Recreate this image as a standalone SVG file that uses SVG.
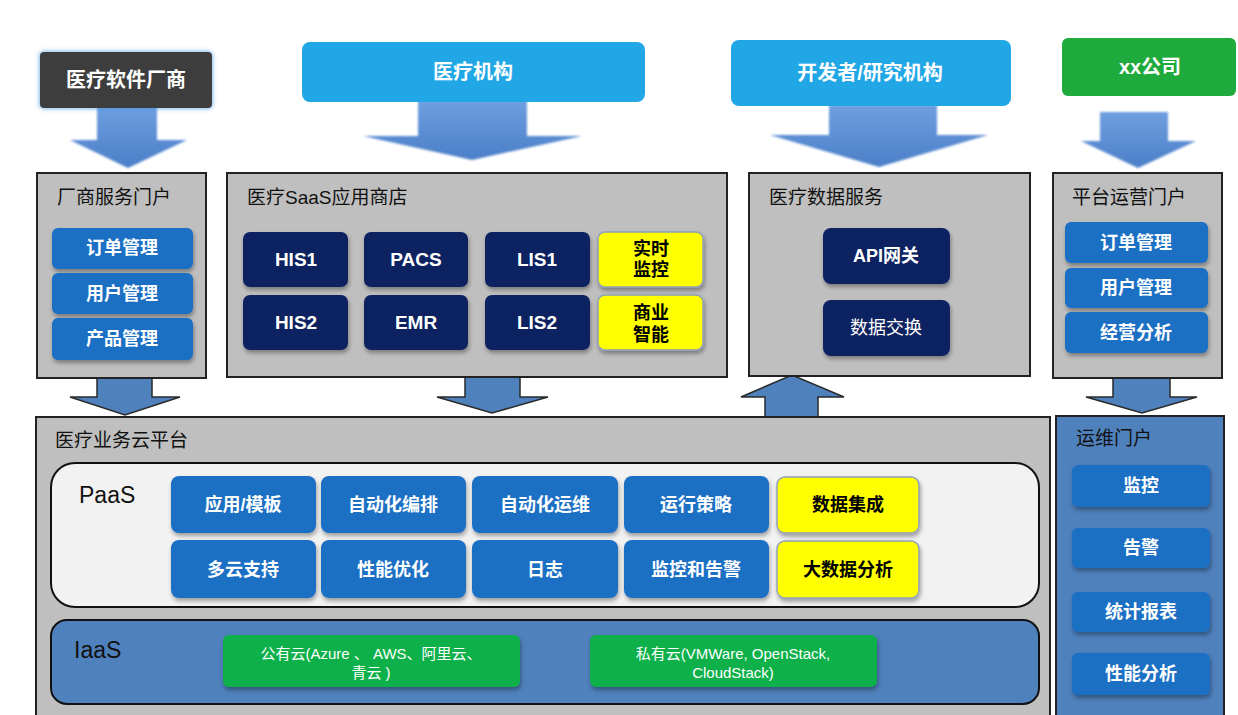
<svg xmlns="http://www.w3.org/2000/svg" width="1238" height="715" viewBox="0 0 1238 715">
<defs>
<filter id="sh" x="-10%" y="-10%" width="120%" height="130%">
<feDropShadow dx="1" dy="3" stdDeviation="2" flood-color="#000" flood-opacity="0.35"/>
</filter>
<filter id="glow" x="-10%" y="-20%" width="120%" height="140%">
<feGaussianBlur stdDeviation="1.2"/>
</filter>
<filter id="bglow" x="-10%" y="-20%" width="120%" height="140%">
<feDropShadow dx="0" dy="0" stdDeviation="2.5" flood-color="#3d8fe0" flood-opacity="0.9"/>
</filter>
<linearGradient id="ag" x1="0" y1="0" x2="0" y2="1">
<stop offset="0" stop-color="#6f9fe0"/>
<stop offset="1" stop-color="#4b7fc8"/>
</linearGradient>
</defs>
<style>
text{font-family:"Liberation Sans","Noto Sans CJK SC",sans-serif;}
.panel{fill:#bfbfbf;stroke:#222;stroke-width:2;}
.ttl{font-size:19px;fill:#111;}
.wt{fill:#fff;font-weight:bold;text-anchor:middle;dominant-baseline:central;}
.wn{fill:#fff;text-anchor:middle;dominant-baseline:central;}
.bk{fill:#000;font-weight:bold;text-anchor:middle;dominant-baseline:central;}
.blue{fill:#1b6fc4;}
.navy{fill:#0b2161;}
.yel{fill:#ffff00;stroke:#8fa0bb;stroke-width:1.5;}
.grn{fill:#10b04a;}
.arrTop{fill:url(#ag);filter:url(#glow);}
.arr{fill:#4f81bd;stroke:#2a2a2a;stroke-width:1.5;}
</style>
<rect width="1238" height="715" fill="#ffffff"/>

<g id="connectors">
<polygon class="arrTop" points="97,106 157,106 157,140 187,140 128,168 70,140 97,140"/>
<polygon class="arrTop" points="418,100 527,100 527,136 582,136 472,160 363,136 418,136"/>
<polygon class="arrTop" points="829,105 937,105 937,135 988,135 879,167 770,135 829,135"/>
<polygon class="arrTop" points="1100,112 1168,112 1168,141 1196,141 1138,168 1081,141 1100,141"/>
<polygon class="arr" points="97,378 152,378 152,397 180,397 125,415 70,397 97,397"/>
<polygon class="arr" points="465,377 520,377 520,397 548,397 492,413 437,397 465,397"/>
<polygon class="arr" points="765,418 818,418 818,397 844,397 792,375 741,397 765,397"/>
<polygon class="arr" points="1113,378 1170,378 1170,397 1197,397 1142,413 1086,397 1113,397"/>
</g>

<g id="vendor">
<rect x="40" y="52" width="172" height="56" rx="4" fill="#3d3d3d" filter="url(#bglow)"/>
<text class="wt" x="126" y="80" font-size="20">医疗软件厂商</text>
</g>
<g id="hospital">
<rect x="302" y="42" width="343" height="60" rx="8" fill="#22a7e6"/>
<text class="wt" x="473" y="72" font-size="20">医疗机构</text>
</g>
<g id="developer">
<rect x="731" y="40" width="280" height="66" rx="8" fill="#22a7e6"/>
<text class="wt" x="870" y="73" font-size="20">开发者/研究机构</text>
</g>
<g id="company">
<rect x="1062" y="38" width="174" height="58" rx="6" fill="#1faa3d"/>
<text class="wt" x="1150" y="67" font-size="20">xx公司</text>
</g>

<g id="vendor-portal">
<rect class="panel" x="37" y="173" width="169" height="205"/>
<text class="ttl" x="57" y="204">厂商服务门户</text>
<rect class="blue" x="52" y="228" width="141" height="41" rx="6" filter="url(#sh)"/>
<text class="wt" x="122" y="248" font-size="18">订单管理</text>
<rect class="blue" x="52" y="273" width="141" height="41" rx="6" filter="url(#sh)"/>
<text class="wt" x="122" y="294" font-size="18">用户管理</text>
<rect class="blue" x="52" y="318" width="141" height="42" rx="6" filter="url(#sh)"/>
<text class="wt" x="122" y="339" font-size="18">产品管理</text>
</g>

<g id="saas-store">
<rect class="panel" x="227" y="173" width="500" height="204"/>
<text class="ttl" x="247" y="204">医疗SaaS应用商店</text>
<rect class="navy" x="243" y="232" width="105" height="55" rx="7" filter="url(#sh)"/>
<text class="wt" x="296" y="259" font-size="19">HIS1</text>
<rect class="navy" x="364" y="232" width="104" height="55" rx="7" filter="url(#sh)"/>
<text class="wt" x="416" y="259" font-size="19">PACS</text>
<rect class="navy" x="485" y="232" width="105" height="55" rx="7" filter="url(#sh)"/>
<text class="wt" x="537" y="259" font-size="19">LIS1</text>
<rect class="yel" x="598" y="232" width="105" height="55" rx="7" filter="url(#sh)"/>
<text class="bk" x="651" y="249" font-size="18">实时</text>
<text class="bk" x="651" y="270" font-size="18">监控</text>
<rect class="navy" x="243" y="295" width="105" height="55" rx="7" filter="url(#sh)"/>
<text class="wt" x="296" y="322" font-size="19">HIS2</text>
<rect class="navy" x="364" y="295" width="104" height="55" rx="7" filter="url(#sh)"/>
<text class="wt" x="416" y="322" font-size="19">EMR</text>
<rect class="navy" x="485" y="295" width="105" height="55" rx="7" filter="url(#sh)"/>
<text class="wt" x="537" y="322" font-size="19">LIS2</text>
<rect class="yel" x="598" y="295" width="105" height="55" rx="7" filter="url(#sh)"/>
<text class="bk" x="651" y="313" font-size="18">商业</text>
<text class="bk" x="651" y="335" font-size="18">智能</text>
</g>

<g id="data-service">
<rect class="panel" x="749" y="173" width="281" height="203"/>
<text class="ttl" x="769" y="204">医疗数据服务</text>
<rect class="navy" x="823" y="228" width="127" height="56" rx="8" filter="url(#sh)"/>
<text class="wt" x="886" y="256" font-size="18">API网关</text>
<rect class="navy" x="823" y="300" width="127" height="56" rx="8" filter="url(#sh)"/>
<text class="wn" x="886" y="328" font-size="18">数据交换</text>
</g>

<g id="ops-platform-portal">
<rect class="panel" x="1053" y="173" width="169" height="205"/>
<text class="ttl" x="1072" y="204">平台运营门户</text>
<rect class="blue" x="1065" y="222" width="143" height="41" rx="6" filter="url(#sh)"/>
<text class="wt" x="1136" y="243" font-size="18">订单管理</text>
<rect class="blue" x="1065" y="268" width="143" height="40" rx="6" filter="url(#sh)"/>
<text class="wt" x="1136" y="288" font-size="18">用户管理</text>
<rect class="blue" x="1065" y="312" width="143" height="41" rx="6" filter="url(#sh)"/>
<text class="wt" x="1136" y="333" font-size="18">经营分析</text>
</g>

<g id="cloud-platform">
<rect class="panel" x="36" y="417" width="1014" height="310"/>
<text class="ttl" x="55" y="447">医疗业务云平台</text>
</g>

<g id="paas">
<rect x="51" y="463" width="988" height="144" rx="24" fill="#f2f2f2" stroke="#111" stroke-width="2"/>
<text x="79" y="503" font-size="23" fill="#111">PaaS</text>
<rect class="blue" x="171" y="476" width="145" height="57" rx="8" filter="url(#sh)"/>
<text class="wt" x="243" y="505" font-size="18">应用/模板</text>
<rect class="blue" x="321" y="476" width="145" height="57" rx="8" filter="url(#sh)"/>
<text class="wt" x="393" y="505" font-size="18">自动化编排</text>
<rect class="blue" x="472" y="476" width="146" height="57" rx="8" filter="url(#sh)"/>
<text class="wt" x="545" y="505" font-size="18">自动化运维</text>
<rect class="blue" x="624" y="476" width="145" height="57" rx="8" filter="url(#sh)"/>
<text class="wt" x="696" y="505" font-size="18">运行策略</text>
<rect class="yel" x="777" y="477" width="142" height="56" rx="8" filter="url(#sh)"/>
<text class="bk" x="848" y="505" font-size="18">数据集成</text>
<rect class="blue" x="171" y="540" width="145" height="58" rx="8" filter="url(#sh)"/>
<text class="wt" x="243" y="570" font-size="18">多云支持</text>
<rect class="blue" x="321" y="540" width="145" height="58" rx="8" filter="url(#sh)"/>
<text class="wt" x="393" y="570" font-size="18">性能优化</text>
<rect class="blue" x="472" y="540" width="146" height="58" rx="8" filter="url(#sh)"/>
<text class="wt" x="545" y="570" font-size="18">日志</text>
<rect class="blue" x="624" y="540" width="145" height="58" rx="8" filter="url(#sh)"/>
<text class="wt" x="696" y="570" font-size="18">监控和告警</text>
<rect class="yel" x="777" y="541" width="142" height="57" rx="8" filter="url(#sh)"/>
<text class="bk" x="848" y="570" font-size="18">大数据分析</text>
</g>

<g id="iaas">
<rect x="51" y="620" width="988" height="84" rx="16" fill="#4f81bd" stroke="#111" stroke-width="2"/>
<text x="74" y="658" font-size="23" fill="#111">IaaS</text>
<rect class="grn" x="223" y="635" width="297" height="52" rx="6" filter="url(#sh)"/>
<text class="wn" x="371" y="653" font-size="15">公有云(Azure 、 AWS、阿里云、</text>
<text class="wn" x="371" y="672" font-size="15">青云 )</text>
<rect class="grn" x="590" y="635" width="287" height="52" rx="6" filter="url(#sh)"/>
<text class="wn" x="733" y="653" font-size="15">私有云(VMWare, OpenStack,</text>
<text class="wn" x="733" y="672" font-size="15">CloudStack)</text>
</g>

<g id="ops-portal">
<rect x="1056" y="416" width="168" height="310" fill="#4f81bd" stroke="#222" stroke-width="2"/>
<text class="ttl" x="1076" y="445">运维门户</text>
<rect class="blue" x="1072" y="465" width="138" height="42" rx="6" filter="url(#sh)"/>
<text class="wt" x="1141" y="486" font-size="18">监控</text>
<rect class="blue" x="1072" y="528" width="138" height="40" rx="6" filter="url(#sh)"/>
<text class="wt" x="1141" y="548" font-size="18">告警</text>
<rect class="blue" x="1072" y="592" width="138" height="40" rx="6" filter="url(#sh)"/>
<text class="wt" x="1141" y="612" font-size="18">统计报表</text>
<rect class="blue" x="1072" y="653" width="138" height="42" rx="6" filter="url(#sh)"/>
<text class="wt" x="1141" y="674" font-size="18">性能分析</text>
</g>
</svg>
